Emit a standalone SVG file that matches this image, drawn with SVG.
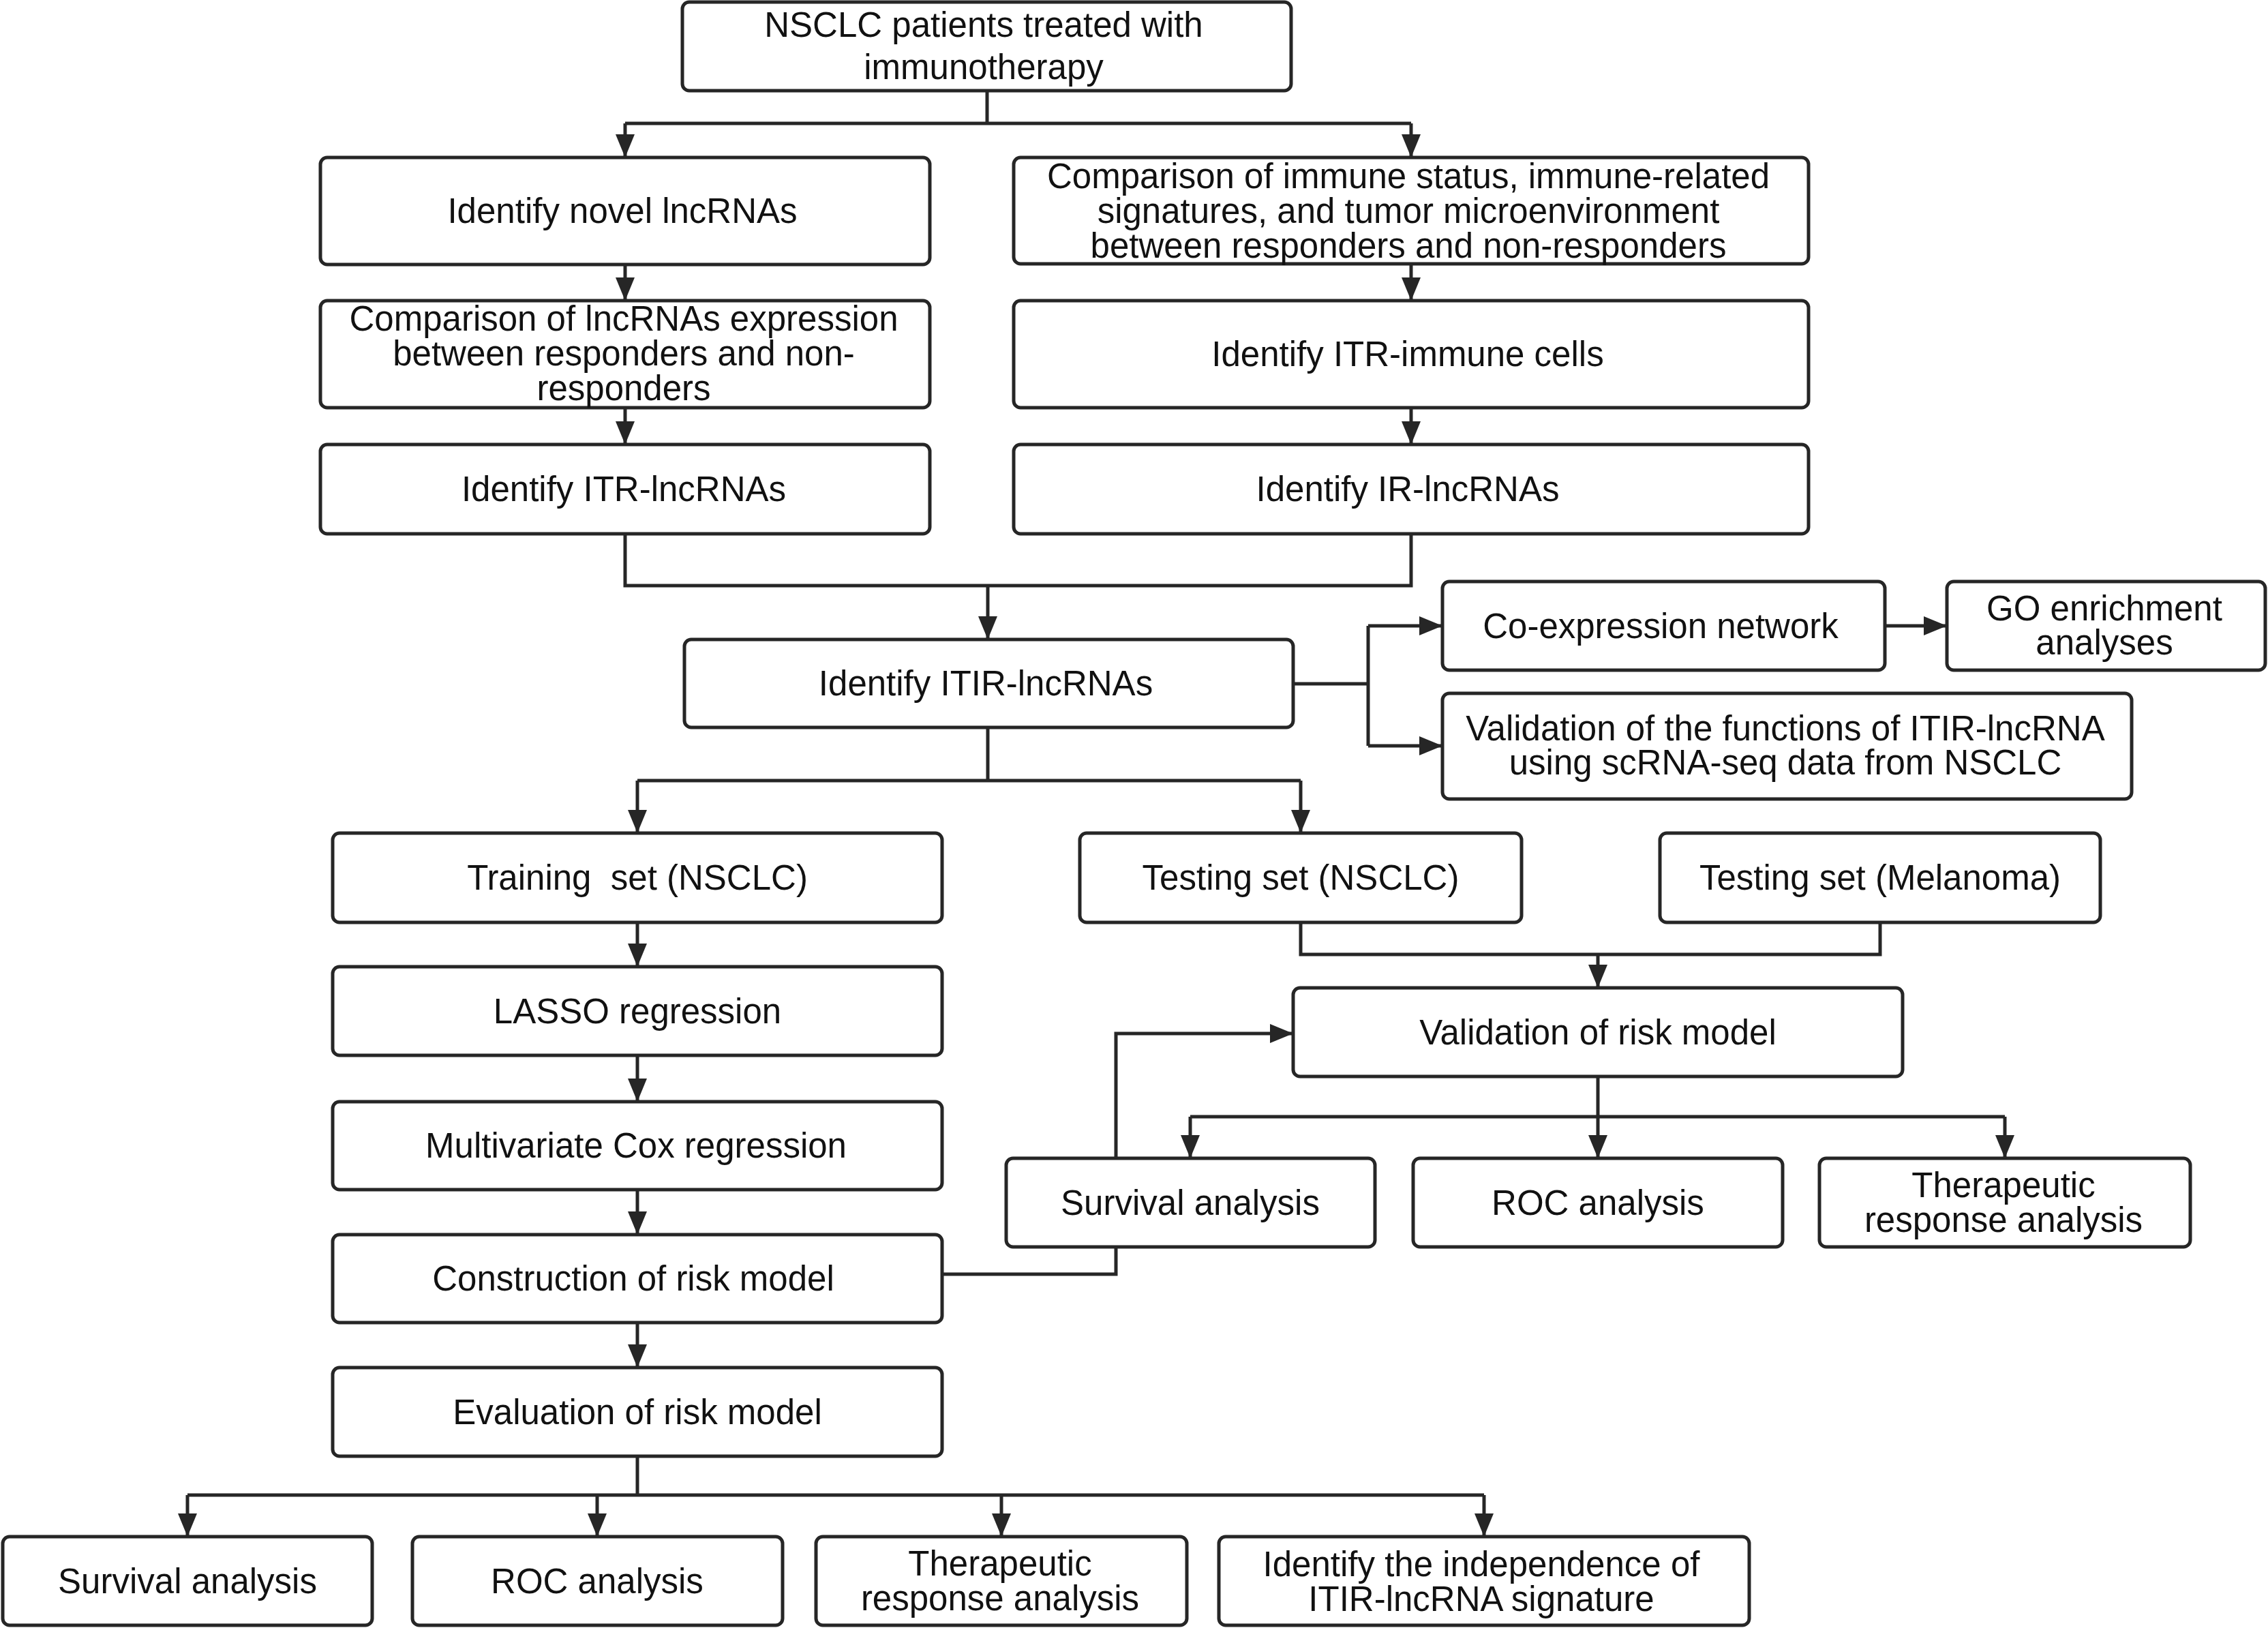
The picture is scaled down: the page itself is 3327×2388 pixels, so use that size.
<svg xmlns="http://www.w3.org/2000/svg" width="3327" height="2388" viewBox="0 0 3327 2388">
<style>
.b{fill:#fff;stroke:#262626;stroke-width:5}
.t{font-family:"Liberation Sans",Arial,sans-serif;font-size:51px;fill:#111;text-anchor:middle}
.c{fill:none;stroke:#262626;stroke-width:5}
.a{marker-end:url(#ah)}
</style>
<defs>
<marker id="ah" markerUnits="userSpaceOnUse" markerWidth="34" markerHeight="28" refX="34" refY="14" orient="auto">
<path d="M0,0 L34,14 L0,28 z" fill="#262626"/>
</marker>
</defs>
<rect width="3327" height="2388" fill="#fff"/>
<g id="connectors">
<path class="c" d="M1448,133 V181 M917,181 H2070"/>
<path class="c a" d="M917,181 V231"/>
<path class="c a" d="M2070,181 V231"/>
<path class="c a" d="M917,388 V441"/>
<path class="c a" d="M917,598 V652"/>
<path class="c a" d="M2070,387 V441"/>
<path class="c a" d="M2070,598 V652"/>
<path class="c" d="M917,783 V859 H2070 V783"/>
<path class="c a" d="M1449,859 V938"/>
<path class="c" d="M1897,1003 H2007 M2007,918 V1094"/>
<path class="c a" d="M2007,918 H2116"/>
<path class="c a" d="M2007,1094 H2116"/>
<path class="c a" d="M2765,918 H2856"/>
<path class="c" d="M1449,1067 V1145 M935,1145 H1908"/>
<path class="c a" d="M935,1145 V1222"/>
<path class="c a" d="M1908,1145 V1222"/>
<path class="c" d="M1908,1353 V1400 H2758 V1353"/>
<path class="c a" d="M2344,1400 V1449"/>
<path class="c a" d="M935,1353 V1418"/>
<path class="c a" d="M935,1548 V1616"/>
<path class="c a" d="M935,1745 V1811"/>
<path class="c a" d="M935,1940 V2006"/>
<path class="c" d="M1382,1869 H1637 V1829"/>
<path class="c a" d="M1637,1699 V1516 H1897"/>
<path class="c a" d="M2344,1579 V1699"/>
<path class="c" d="M1746,1638 H2941"/>
<path class="c a" d="M1746,1638 V1699"/>
<path class="c a" d="M2941,1638 V1699"/>
<path class="c" d="M935,2136 V2193 M275,2193 H2177"/>
<path class="c a" d="M275,2193 V2254"/>
<path class="c a" d="M876,2193 V2254"/>
<path class="c a" d="M1469,2193 V2254"/>
<path class="c a" d="M2177,2193 V2254"/>
</g>
<g id="n1"><rect class="b" x="1001" y="3" width="893" height="130" rx="10"/><text class="t" x="1443" y="54">NSCLC patients treated with</text><text class="t" x="1443" y="116">immunotherapy</text></g>
<g id="n2"><rect class="b" x="470" y="231" width="894" height="157" rx="10"/><text class="t" x="913" y="327">Identify novel lncRNAs</text></g>
<g id="n3"><rect class="b" x="1487" y="231" width="1166" height="156" rx="10"/><text class="t" x="2066" y="276">Comparison of immune status, immune-related</text><text class="t" x="2066" y="327">signatures, and tumor microenvironment</text><text class="t" x="2066" y="378">between responders and non-responders</text></g>
<g id="n4"><rect class="b" x="470" y="441" width="894" height="157" rx="10"/><text class="t" x="915" y="485">Comparison of lncRNAs expression</text><text class="t" x="915" y="536">between responders and non-</text><text class="t" x="915" y="587">responders</text></g>
<g id="n5"><rect class="b" x="1487" y="441" width="1166" height="157" rx="10"/><text class="t" x="2065" y="537">Identify ITR-immune cells</text></g>
<g id="n6"><rect class="b" x="470" y="652" width="894" height="131" rx="10"/><text class="t" x="915" y="735">Identify ITR-lncRNAs</text></g>
<g id="n7"><rect class="b" x="1487" y="652" width="1166" height="131" rx="10"/><text class="t" x="2065" y="735">Identify IR-lncRNAs</text></g>
<g id="n8"><rect class="b" x="1004" y="938" width="893" height="129" rx="10"/><text class="t" x="1446" y="1020">Identify ITIR-lncRNAs</text></g>
<g id="n9"><rect class="b" x="2116" y="853" width="649" height="130" rx="10"/><text class="t" x="2436" y="936">Co-expression network</text></g>
<g id="n10"><rect class="b" x="2856" y="853" width="467" height="130" rx="10"/><text class="t" x="3087" y="910">GO enrichment</text><text class="t" x="3087" y="960">analyses</text></g>
<g id="n11"><rect class="b" x="2116" y="1017" width="1011" height="155" rx="10"/><text class="t" x="2619" y="1086">Validation of the functions of ITIR-lncRNA</text><text class="t" x="2619" y="1136">using scRNA-seq data from NSCLC</text></g>
<g id="n12"><rect class="b" x="488" y="1222" width="894" height="131" rx="10"/><text class="t" x="935" y="1305" xml:space="preserve">Training  set (NSCLC)</text></g>
<g id="n13"><rect class="b" x="1584" y="1222" width="648" height="131" rx="10"/><text class="t" x="1908" y="1305">Testing set (NSCLC)</text></g>
<g id="n14"><rect class="b" x="2435" y="1222" width="646" height="131" rx="10"/><text class="t" x="2758" y="1305">Testing set (Melanoma)</text></g>
<g id="n15"><rect class="b" x="488" y="1418" width="894" height="130" rx="10"/><text class="t" x="935" y="1501">LASSO regression</text></g>
<g id="n16"><rect class="b" x="1897" y="1449" width="894" height="130" rx="10"/><text class="t" x="2344" y="1532">Validation of risk model</text></g>
<g id="n17"><rect class="b" x="488" y="1616" width="894" height="129" rx="10"/><text class="t" x="933" y="1698">Multivariate Cox regression</text></g>
<g id="n18"><rect class="b" x="1476" y="1699" width="541" height="130" rx="10"/><text class="t" x="1746" y="1782">Survival analysis</text></g>
<g id="n19"><rect class="b" x="2073" y="1699" width="542" height="130" rx="10"/><text class="t" x="2344" y="1782">ROC analysis</text></g>
<g id="n20"><rect class="b" x="2669" y="1699" width="544" height="130" rx="10"/><text class="t" x="2939" y="1756">Therapeutic</text><text class="t" x="2939" y="1807">response analysis</text></g>
<g id="n21"><rect class="b" x="488" y="1811" width="894" height="129" rx="10"/><text class="t" x="929" y="1893">Construction of risk model</text></g>
<g id="n22"><rect class="b" x="488" y="2006" width="894" height="130" rx="10"/><text class="t" x="935" y="2089">Evaluation of risk model</text></g>
<g id="n23"><rect class="b" x="4" y="2254" width="542" height="130" rx="10"/><text class="t" x="275" y="2337">Survival analysis</text></g>
<g id="n24"><rect class="b" x="605" y="2254" width="543" height="130" rx="10"/><text class="t" x="876" y="2337">ROC analysis</text></g>
<g id="n25"><rect class="b" x="1197" y="2254" width="544" height="130" rx="10"/><text class="t" x="1467" y="2311">Therapeutic</text><text class="t" x="1467" y="2362">response analysis</text></g>
<g id="n26"><rect class="b" x="1788" y="2254" width="778" height="130" rx="10"/><text class="t" x="2173" y="2312">Identify the independence of</text><text class="t" x="2173" y="2363">ITIR-lncRNA signature</text></g>
</svg>
